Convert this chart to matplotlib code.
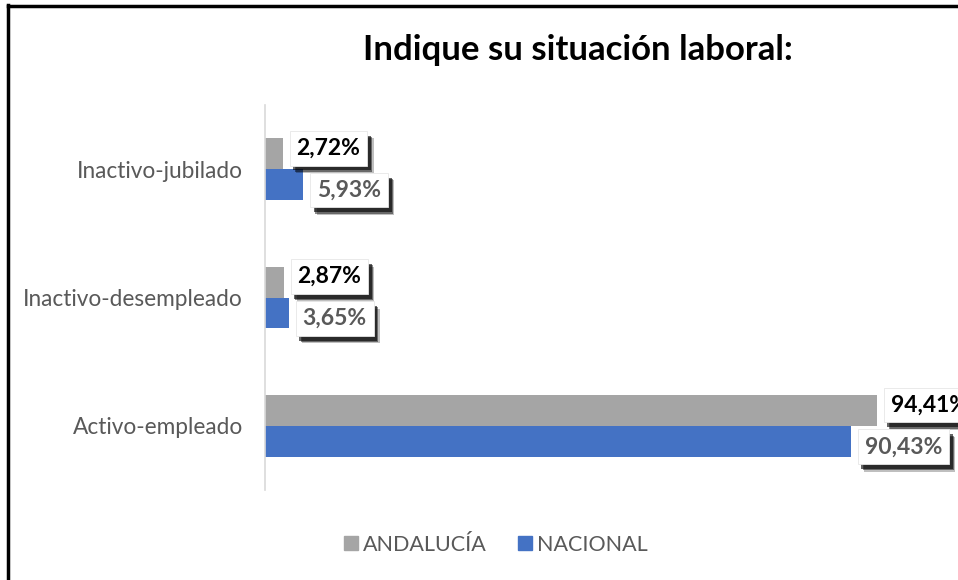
import numpy as np
import matplotlib.pyplot as plt
import matplotlib.patheffects as pe
from matplotlib.lines import Line2D

plt.rcParams['font.family'] = ['Lato', 'DejaVu Sans']

# Data
categories = ['Activo-empleado', 'Inactivo-desempleado', 'Inactivo-jubilado']
andalucia = [94.41, 2.87, 2.72]
nacional = [90.43, 3.65, 5.93]
series_names = ['ANDALUCÍA', 'NACIONAL']

gray = '#A5A5A5'
blue = '#4472C4'
text_gray = '#595959'

fig = plt.figure(figsize=(9.58, 5.8), dpi=100)
ax = fig.add_axes([265/958, 1-490/580, (913-265)/958, (490-105)/580])

y = np.arange(len(categories))
h = 0.24
ax.barh(y + h/2, andalucia, height=h, color=gray, label=series_names[0])
ax.barh(y - h/2, nacional, height=h, color=blue, label=series_names[1])

ax.set_xlim(0, 100)
ax.set_ylim(-0.5, 2.5)
ax.set_yticks(y)
ax.set_yticklabels(categories, fontsize=16.3, color=text_gray)
ax.tick_params(axis='y', length=0, pad=16)
ax.set_xticks([])
for s in ['top', 'right', 'bottom']:
    ax.spines[s].set_visible(False)
ax.spines['left'].set_color('#D9D9D9')
ax.spines['left'].set_linewidth(1.2)

shadow = [pe.SimplePatchShadow(offset=(o, -o - 1), shadow_rgbFace='black', alpha=a)
          for o, a in [(4.5, 0.25), (3.5, 0.45), (2.5, 0.6)]] + [pe.Normal()]


def label(val, yy, color, dy):
    t = ax.annotate(f'{val:.2f}%'.replace('.', ','), (val, yy),
                    xytext=(10, dy), textcoords='offset points',
                    ha='left', va='center', fontsize=16.5, fontweight='bold',
                    color=color,
                    bbox=dict(boxstyle='square,pad=0.3', fc='white',
                              ec='#E6E6E6', lw=0.6),
                    annotation_clip=False)
    t.get_bbox_patch().set_path_effects(shadow)


for i in range(len(categories)):
    label(andalucia[i], y[i] + h/2, 'black', 4)
    label(nacional[i], y[i] - h/2, text_gray, -4)

fig.text(578/958, 1-50/580, 'Indique su situación laboral:', ha='center',
         va='center', fontsize=25, fontweight='bold', color='black')

handles = [Line2D([], [], marker='s', ls='', color=gray, markersize=9.5),
           Line2D([], [], marker='s', ls='', color=blue, markersize=9.5)]
fig.legend(handles, series_names, loc='center', bbox_to_anchor=(494/958, 1-545/580),
           ncol=2, frameon=False, fontsize=15.5, labelcolor=text_gray,
           handletextpad=0.05, columnspacing=1.3, handlelength=1.0)

# Border around the chart (left and top only, as in the cropped image)
fig.add_artist(Line2D([8/958, 8/958], [0, 1-5/580], color='black', lw=2.5,
                      transform=fig.transFigure))
fig.add_artist(Line2D([8/958, 1], [1-6/580, 1-6/580], color='black', lw=2.5,
                      transform=fig.transFigure))

fig.savefig('out.png', dpi=100)
